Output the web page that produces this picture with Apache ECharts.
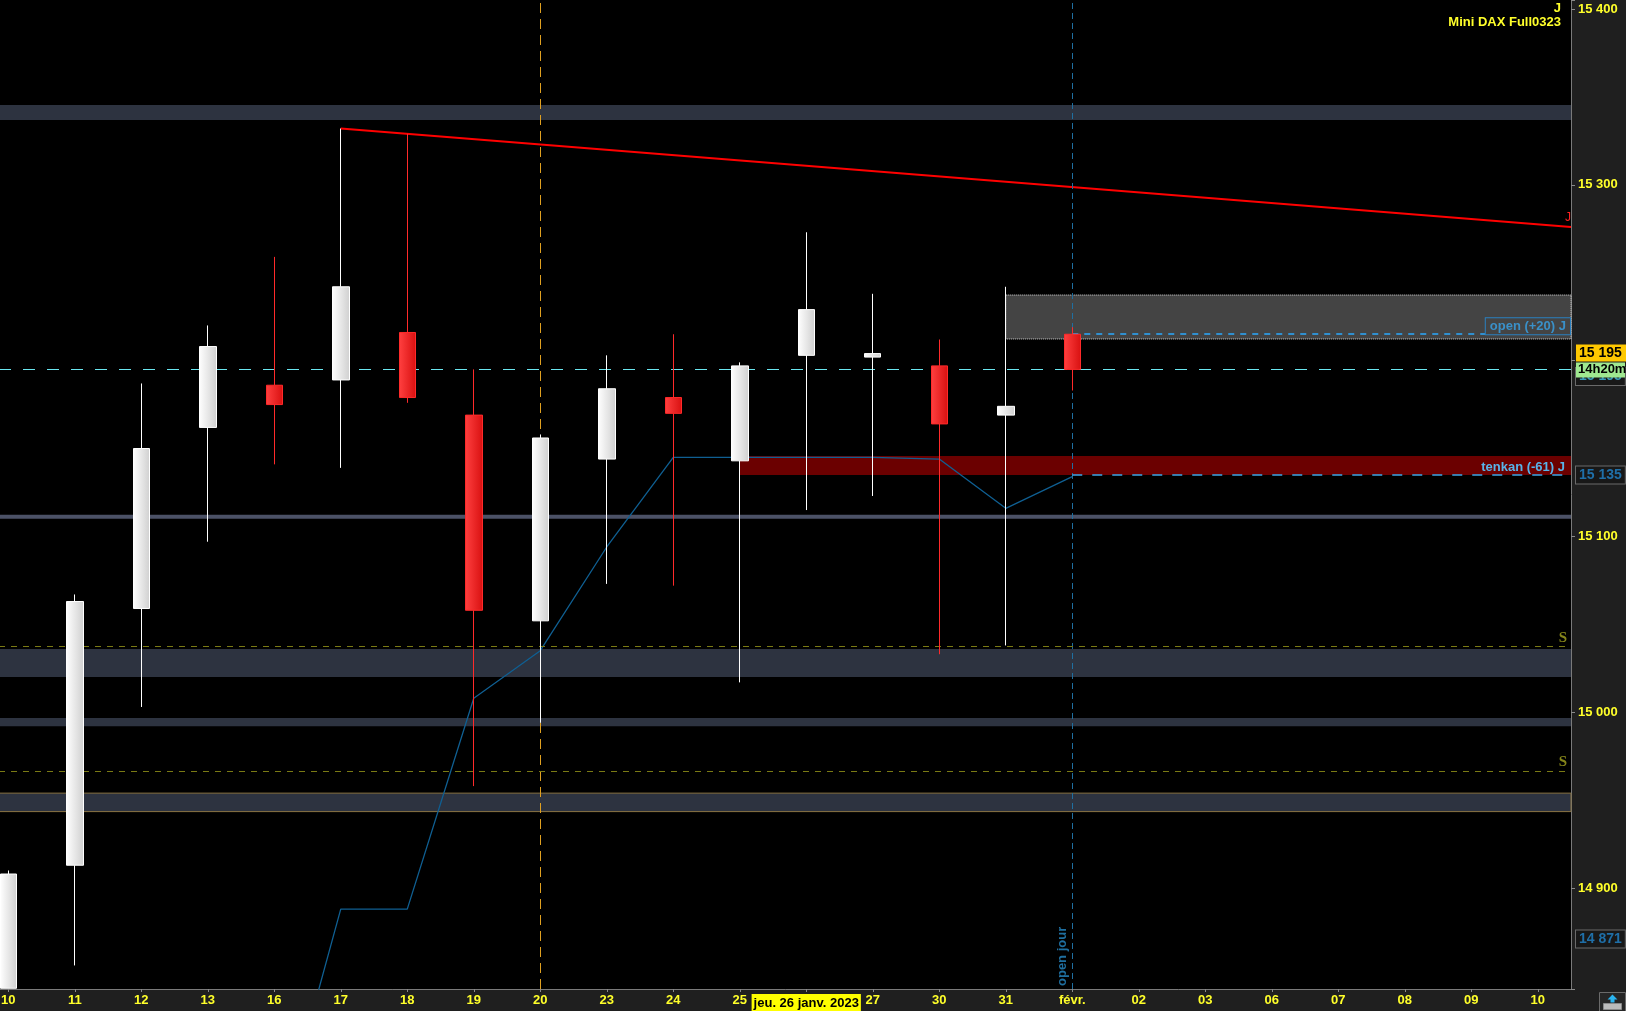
<!DOCTYPE html>
<html><head><meta charset="utf-8">
<script src="https://cdn.jsdelivr.net/npm/echarts@6/dist/echarts.min.js"></script>
<style>html,body{margin:0;padding:0;background:#1f1f1f}#c{width:1626px;height:1011px}</style>
</head><body><div id="c"></div>
<script>
// ---- data ----
const categories = ['2023-01-10','2023-01-11','2023-01-12','2023-01-13','2023-01-16','2023-01-17','2023-01-18','2023-01-19','2023-01-20','2023-01-23','2023-01-24','2023-01-25','2023-01-26','2023-01-27','2023-01-30','2023-01-31','2023-02-01','2023-02-02','2023-02-03','2023-02-06','2023-02-07','2023-02-08','2023-02-09','2023-02-10'];
const xTickLabels = ['10','11','12','13','16','17','18','19','20','23','24','25','26','27','30','31','févr.','02','03','06','07','08','09','10'];
const highlightIndex = 12;
const highlightLabel = 'jeu. 26 janv. 2023';
// [open, close, low, high]  (first candle: open/low lie below the visible range, shown at the bottom edge)
const ohlc = [
  [14843, 14908, 14843, 14910],
  [14913, 15063, 14856, 15067],
  [15059, 15150, 15003, 15187],
  [15162, 15208, 15097, 15220],
  [15186, 15175, 15141, 15259],
  [15189, 15242, 15139, 15332],
  [15216, 15179, 15176, 15329],
  [15169, 15058, 14958, 15195],
  [15052, 15156, 14994, 15158],
  [15144, 15184, 15073, 15203],
  [15179, 15170, 15072, 15215],
  [15143, 15197, 15017, 15199],
  [15203, 15229, 15115, 15273],
  [15202, 15204, 15123, 15238],
  [15197, 15164, 15033, 15212],
  [15169, 15174, 15038, 15242],
  [15215, 15195, 15183, 15219]
];
const tenkan = [null,null,null,null,14750,14888,14888,15008,15035,15094,15145,15145,15145,15145,15144,15116,15134];
const trendLine = [[5, 15332], [23.5, 15276]];
const yTickLabels = [14900, 15000, 15100, 15300, 15400];
const resistanceBands = [[15345.4, 15336.9], [15036, 15020], [14996.7, 14992]];
const pivotBand = [15112.3, 15110];
const lowBand = [14954, 14943.5];
const openZone = { fromIdx: 15, top: 15237.3, bottom: 15212.3 };
const tenkanZone = { fromIdx: 11, top: 15145.7, bottom: 15134.9 };
const lastPrice = 15195;
const openPrice = 15215;
const openIdx = 16;
const tenkanValue = 15135;
const sLevels = [15037.6, 14966.6];
const extraTag = 14871;
const sessionIdx = 8;
const yMin = 14842.6, yMax = 15405.1;

const fmt = v => String(Math.round(v)).replace(/\B(?=(\d{3})+(?!\d))/g, ' ');
const FONT = 'Liberation Sans, Arial, sans-serif';
const YEL = '#ffff2a';
const NOLINE = 'rgba(0,0,0,0)';
const tickPositions = xTickLabels.map((_, i) => i);

const chart = echarts.init(document.getElementById('c'), null, {renderer: 'canvas'});
const whiteGrad = new echarts.graphic.LinearGradient(0, 0, 1, 0, [{offset: 0, color: '#ffffff'}, {offset: 1, color: '#cfcfcf'}]);
const redGrad = new echarts.graphic.LinearGradient(0, 0, 1, 0, [{offset: 0, color: '#ff4040'}, {offset: 1, color: '#d81010'}]);

const tagBox = (color) => ({
  show: true, position: 'end', distance: 5, color: color, fontFamily: FONT, fontSize: 14, fontWeight: 'bold',
  backgroundColor: '#181818', borderColor: '#6a6a6a', borderWidth: 1, padding: [2, 3, 1, 3]
});

const option = {
  animation: false,
  backgroundColor: '#1f1f1f',
  grid: {left: -25, right: 55, top: 0, bottom: 22, show: true, backgroundColor: '#000', borderWidth: 0,
    containLabel: false, outerBoundsMode: 'none'},
  xAxis: [{
    type: 'category', data: categories, boundaryGap: true, show: false
  }, {
    type: 'value', min: -0.5, max: 23.5, position: 'bottom',
    axisLine: {show: true, onZero: false, lineStyle: {color: '#7a7a7a'}},
    axisTick: {show: true, customValues: tickPositions, length: 3, lineStyle: {color: '#8a8a8a'}},
    splitLine: {show: false},
    axisLabel: {
      customValues: tickPositions, color: YEL, fontFamily: FONT, fontSize: 13, fontWeight: 'bold', margin: 5,
      hideOverlap: false, showMinLabel: true, showMaxLabel: true,
      formatter: (v) => { const i = Math.round(v); return i === highlightIndex ? '{hl|' + highlightLabel + '}' : xTickLabels[i]; },
      rich: {hl: {backgroundColor: '#ffff00', color: '#000', fontFamily: FONT, fontSize: 13, fontWeight: 'bold', padding: [3, 2, 2, 2]}}
    }
  }],
  yAxis: {
    type: 'value', position: 'right', min: yMin, max: yMax, splitNumber: 5,
    axisLine: {show: true, onZero: false, lineStyle: {color: '#7a7a7a'}},
    axisTick: {show: true, length: 4, lineStyle: {color: '#8a8a8a'}},
    splitLine: {show: false},
    axisLabel: {color: YEL, fontFamily: FONT, fontSize: 13, fontWeight: 'bold', margin: 7,
      formatter: v => (yTickLabels.some(t => Math.abs(t - v) < 0.01) ? fmt(v) : '')}
  },
  graphic: [
    {type: 'text', right: 65, top: 2, style: {text: 'J', fill: YEL, font: 'bold 13px ' + FONT}},
    {type: 'text', right: 65, top: 16, style: {text: 'Mini DAX Full0323', fill: YEL, font: 'bold 13px ' + FONT}},
    {type: 'group', left: 1599, top: 992, children: [
      {type: 'rect', shape: {x: 0, y: 0, width: 26, height: 19}, style: {fill: '#262626', stroke: '#6a6a6a', lineWidth: 1}},
      {type: 'polygon', shape: {points: [[13, 2], [18, 7], [15, 7], [15, 10], [11, 10], [11, 7], [8, 7]]}, style: {fill: '#2ab4f0'}},
      {type: 'rect', shape: {x: 4, y: 11, width: 18, height: 6}, style: {fill: '#bbbbbb', stroke: '#888', lineWidth: 1}}
    ]}
  ],
  series: [
    {
      name: 'Mini DAX', type: 'candlestick', xAxisIndex: 0, yAxisIndex: 0, barWidth: 17, z: 6,
      data: ohlc,
      itemStyle: {color: whiteGrad, color0: redGrad, borderColor: '#ffffff', borderColor0: '#ff2a2a', borderWidth: 1}
    },
    {
      name: 'trend', type: 'line', xAxisIndex: 1, yAxisIndex: 0, data: trendLine, symbol: 'none',
      lineStyle: {color: '#ff0000', width: 2},
      endLabel: {show: true, formatter: 'J', color: '#ff2020', fontFamily: FONT, fontSize: 12, offset: [-14, -9]},
      markArea: {
        silent: true, label: {show: false},
        data: [
          ...resistanceBands.map(b => [{yAxis: b[0], itemStyle: {color: '#2d3340'}}, {yAxis: b[1]}]),
          [{yAxis: pivotBand[0], itemStyle: {color: '#4b5166'}}, {yAxis: pivotBand[1]}],
          [{yAxis: lowBand[0], itemStyle: {color: '#2d3340', borderColor: '#8a7444', borderWidth: 1}}, {yAxis: lowBand[1]}],
          [{xAxis: openZone.fromIdx, yAxis: openZone.top, itemStyle: {color: '#444444', borderColor: '#d8d8d8', borderWidth: 1, borderType: 'dotted'}}, {xAxis: 23.5, yAxis: openZone.bottom}],
          [{xAxis: tenkanZone.fromIdx, yAxis: tenkanZone.top, itemStyle: {color: '#6b0000'}}, {xAxis: 23.5, yAxis: tenkanZone.bottom}]
        ]
      },
      markLine: {
        silent: true, symbol: ['none', 'none'],
        data: [
          {xAxis: sessionIdx, lineStyle: {color: '#e0a020', type: [10, 6], width: 1}, label: {show: false}},
          {xAxis: openIdx, lineStyle: {color: '#1f6fa0', type: [6, 4], width: 1},
            label: {show: true, formatter: 'open jour', position: 'insideStartTop', distance: [3, 3], color: '#1f6fa0', fontFamily: FONT, fontSize: 13, fontWeight: 'bold'}},
          {yAxis: lastPrice, lineStyle: {color: '#6ae6ef', type: [12, 12], width: 1},
            label: Object.assign(tagBox('#3a9ab8'), {formatter: fmt(lastPrice), offset: [0, 7]})},
          ...sLevels.map(s => ({yAxis: s, lineStyle: {color: '#7a7a14', type: [6, 6], width: 1},
            label: {show: true, formatter: 'S', position: 'insideEndTop', distance: [4, 1], color: '#85851a', fontFamily: 'Liberation Serif, DejaVu Serif, serif', fontSize: 15, fontWeight: 'bold'}})),
          [{coord: [openIdx, openPrice], lineStyle: {color: '#3090d0', type: [6, 6], width: 2},
            label: {show: true, formatter: 'open (+20) J', position: 'insideEndTop', distance: [1, 0], color: '#3a90c8', fontFamily: FONT, fontSize: 13, fontWeight: 'bold',
              backgroundColor: '#444444', borderColor: '#2a80c0', borderWidth: 1, padding: [2, 4, 1, 4]}},
           {coord: [23.5, openPrice]}],
          [{coord: [openIdx, tenkanValue], lineStyle: {color: '#3aa6e8', type: [10, 10], width: 1.5},
            label: {show: true, formatter: 'tenkan (-61) J', position: 'insideEndTop', distance: [6, 1], color: '#58b4ea', fontFamily: FONT, fontSize: 13, fontWeight: 'bold'}},
           {coord: [23.5, tenkanValue]}]
        ]
      }
    },
    {
      name: 'tenkan', type: 'line', xAxisIndex: 0, yAxisIndex: 0, data: tenkan, symbol: 'none', connectNulls: false,
      lineStyle: {color: '#0f5f92', width: 1.3},
      markLine: {
        silent: true, symbol: ['none', 'none'],
        data: [
          {yAxis: tenkanValue, lineStyle: {color: NOLINE, width: 1}, label: Object.assign(tagBox('#1f6fa8'), {formatter: fmt(tenkanValue)})},
          {yAxis: extraTag, lineStyle: {color: NOLINE, width: 1}, label: Object.assign(tagBox('#1f6fa8'), {formatter: fmt(extraTag)})},
          {yAxis: lastPrice, lineStyle: {color: NOLINE, width: 1}, label: {
            show: true, position: 'end', distance: 5, offset: [0, -8],
            formatter: '{y|' + fmt(lastPrice) + '}\n{g|14h20m}',
            rich: {
              y: {backgroundColor: '#ffc800', color: '#000', fontFamily: FONT, fontSize: 14, fontWeight: 'bold', width: 45, padding: [2, 2, 1, 3], lineHeight: 17},
              g: {backgroundColor: '#9fe890', color: '#000', fontFamily: FONT, fontSize: 13, fontWeight: 'bold', width: 46, padding: [1, 1, 1, 2], lineHeight: 17}
            }
          }}
        ]
      }
    }
  ]
};
chart.setOption(option);
</script>
</body></html>
